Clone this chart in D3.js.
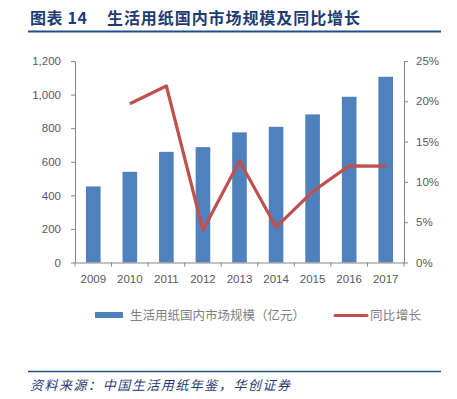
<!doctype html>
<html>
<head>
<meta charset="utf-8">
<title>生活用纸国内市场规模及同比增长</title>
<script src="https://d3js.org/d3.v7.min.js"></script>
<style>
  body { margin: 0; background: #fff; }
  svg { display: block; }
</style>
</head>
<body>
<svg width="457" height="399"></svg>
<script>
// data
const years = ["2009", "2010", "2011", "2012", "2013", "2014", "2015", "2016", "2017"];
const marketSize = [453, 540, 659, 687, 775, 808, 882, 987, 1106];   // 亿元
const yoyGrowth = [null, 19.7, 21.9, 4.0, 12.6, 4.4, 8.8, 12.0, 11.95]; // %
const leftTicks = [0, 200, 400, 600, 800, 1000, 1200];
const rightTicks = [0, 5, 10, 15, 20, 25];

const svg = d3.select("svg");
const tickFont = "'Liberation Sans', Arial, sans-serif";
const cjkFont = "'Noto Sans CJK SC', sans-serif";

// title
svg.append("text")
  .attr("x", 30).attr("y", 24)
  .attr("font-family", cjkFont).attr("font-weight", "bold")
  .attr("font-size", "16px").attr("fill", "#1F3B73")
  .attr("textLength", 57).attr("lengthAdjust", "spacing")
  .text("图表 14");
svg.append("text")
  .attr("x", 107).attr("y", 24)
  .attr("font-family", cjkFont).attr("font-weight", "bold")
  .attr("font-size", "16px").attr("fill", "#1F3B73")
  .attr("textLength", 253).attr("lengthAdjust", "spacing")
  .text("生活用纸国内市场规模及同比增长");
svg.append("line")
  .attr("x1", 28).attr("x2", 441).attr("y1", 31.5).attr("y2", 31.5)
  .attr("stroke", "#1F4E8C").attr("stroke-width", 2);

// scales
const x = d3.scaleBand().domain(years).range([75, 404]).paddingInner(0.6).paddingOuter(0.3);
const yL = d3.scaleLinear().domain([0, 1200]).range([262.5, 61]);
const yR = d3.scaleLinear().domain([0, 25]).range([262.5, 61]);

// bars
svg.append("g").selectAll("rect")
  .data(years)
  .join("rect")
  .attr("x", d => x(d))
  .attr("width", x.bandwidth())
  .attr("y", (d, i) => yL(marketSize[i]))
  .attr("height", (d, i) => yL(0) - yL(marketSize[i]))
  .attr("fill", "#4F81BD");

// axes
function styleAxis(g) {
  g.select(".domain").attr("stroke", "#868686").attr("stroke-width", 1);
  g.selectAll(".tick line").attr("stroke", "#868686");
  g.selectAll(".tick text").attr("fill", "#595959")
    .attr("font-family", tickFont).attr("font-size", "11.5px");
}

svg.append("g")
  .attr("transform", "translate(75,0)")
  .call(d3.axisLeft(yL).tickValues(leftTicks).tickFormat(d3.format(",")).tickSizeInner(4).tickSizeOuter(0).tickPadding(10))
  .call(styleAxis);

svg.append("g")
  .attr("transform", "translate(404,0)")
  .call(d3.axisRight(yR).tickValues(rightTicks).tickFormat(d => d + "%").tickSizeInner(4).tickSizeOuter(0).tickPadding(8))
  .call(styleAxis);

const xAxis = svg.append("g")
  .attr("transform", "translate(0," + yL(0) + ")")
  .call(d3.axisBottom(x).tickSize(0).tickPadding(12))
  .call(styleAxis);
// tick marks sit between the categories
const step = x.step();
xAxis.selectAll(".boundary")
  .data(d3.range(years.length + 1))
  .join("line")
  .attr("x1", i => 75 + i * step).attr("x2", i => 75 + i * step)
  .attr("y1", 0).attr("y2", 4)
  .attr("stroke", "#868686");

// growth line
const line = d3.line()
  .defined(d => d.v !== null)
  .x(d => x(d.year) + x.bandwidth() / 2)
  .y(d => yR(d.v));
svg.append("path")
  .datum(years.map((year, i) => ({ year: year, v: yoyGrowth[i] })))
  .attr("d", line)
  .attr("fill", "none")
  .attr("stroke", "#C0504D")
  .attr("stroke-width", 3.2)
  .attr("stroke-linejoin", "round");

// legend
const legend = svg.append("g");
legend.append("rect")
  .attr("x", 95).attr("y", 312).attr("width", 28).attr("height", 6)
  .attr("fill", "#4F81BD");
legend.append("text")
  .attr("x", 130).attr("y", 319.5)
  .attr("font-family", cjkFont).attr("font-size", "12.5px").attr("fill", "#808080")
  .attr("textLength", 175).attr("lengthAdjust", "spacing")
  .text("生活用纸国内市场规模（亿元）");
legend.append("line")
  .attr("x1", 335).attr("x2", 367).attr("y1", 315.5).attr("y2", 315.5)
  .attr("stroke", "#C0504D").attr("stroke-width", 3).attr("stroke-linecap", "round");
legend.append("text")
  .attr("x", 370).attr("y", 319.5)
  .attr("font-family", cjkFont).attr("font-size", "12.5px").attr("fill", "#808080")
  .attr("textLength", 51).attr("lengthAdjust", "spacing")
  .text("同比增长");

// source
svg.append("line")
  .attr("x1", 28).attr("x2", 441).attr("y1", 371.5).attr("y2", 371.5)
  .attr("stroke", "#1F4E8C").attr("stroke-width", 1.5);
svg.append("text")
  .attr("x", 30).attr("y", 390)
  .attr("font-family", cjkFont).attr("font-style", "italic")
  .attr("font-size", "13px").attr("fill", "#1F3B73")
  .attr("textLength", 260).attr("lengthAdjust", "spacing")
  .text("资料来源：中国生活用纸年鉴，华创证券");
</script>
</body>
</html>
